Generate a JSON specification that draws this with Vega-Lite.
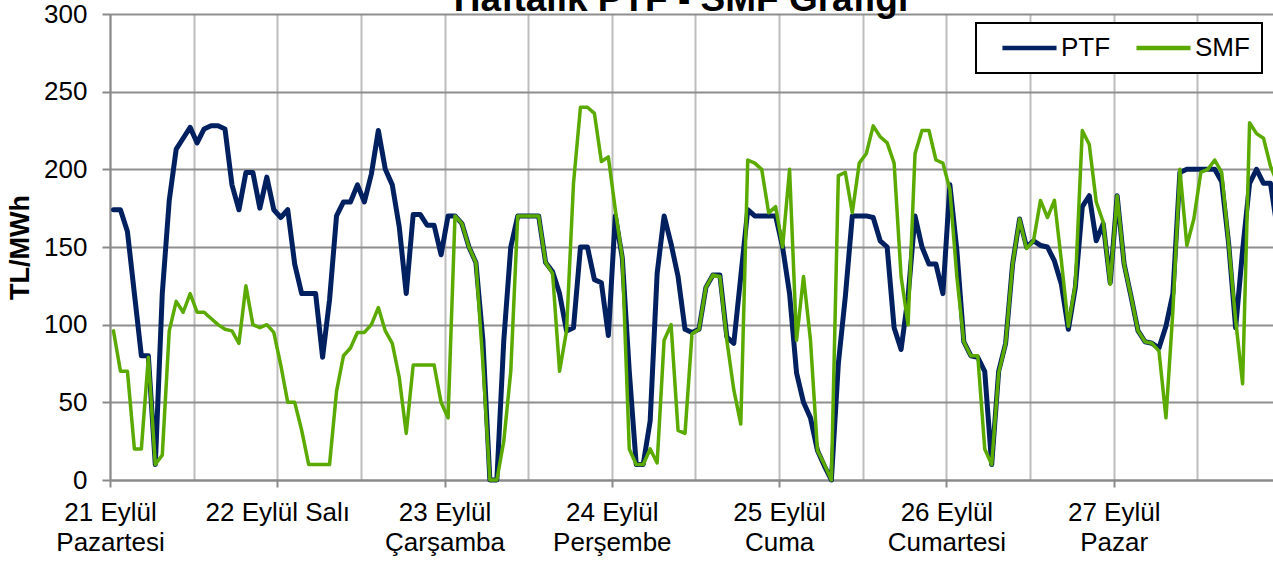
{
  "$schema": "https://vega.github.io/schema/vega-lite/v6.json",
  "width": 1163,
  "height": 466,
  "autosize": {"type": "none"},
  "padding": {"left": 110, "top": 14, "right": 0, "bottom": 81},
  "background": "white",
  "data": {
    "values": [
      {"hour":0,"PTF":174,"SMF":96},{"hour":1,"PTF":174,"SMF":70},{"hour":2,"PTF":160,"SMF":70},{"hour":3,"PTF":120,"SMF":20},
      {"hour":4,"PTF":80,"SMF":20},{"hour":5,"PTF":80,"SMF":79},{"hour":6,"PTF":10,"SMF":10},{"hour":7,"PTF":120,"SMF":16},
      {"hour":8,"PTF":180,"SMF":96},{"hour":9,"PTF":213,"SMF":115},{"hour":10,"PTF":220,"SMF":108},{"hour":11,"PTF":227,"SMF":120},
      {"hour":12,"PTF":217,"SMF":108},{"hour":13,"PTF":226,"SMF":108},{"hour":14,"PTF":228,"SMF":104},{"hour":15,"PTF":228,"SMF":100},
      {"hour":16,"PTF":226,"SMF":97},{"hour":17,"PTF":190,"SMF":96},{"hour":18,"PTF":174,"SMF":88},{"hour":19,"PTF":198,"SMF":125},
      {"hour":20,"PTF":198,"SMF":100},{"hour":21,"PTF":175,"SMF":98},{"hour":22,"PTF":195,"SMF":100},{"hour":23,"PTF":174,"SMF":95},
      {"hour":24,"PTF":169,"SMF":74},{"hour":25,"PTF":174,"SMF":50},{"hour":26,"PTF":139,"SMF":50},{"hour":27,"PTF":120,"SMF":32},
      {"hour":28,"PTF":120,"SMF":10},{"hour":29,"PTF":120,"SMF":10},{"hour":30,"PTF":79,"SMF":10},{"hour":31,"PTF":116,"SMF":10},
      {"hour":32,"PTF":170,"SMF":57},{"hour":33,"PTF":179,"SMF":80},{"hour":34,"PTF":179,"SMF":85},{"hour":35,"PTF":190,"SMF":95},
      {"hour":36,"PTF":179,"SMF":95},{"hour":37,"PTF":197,"SMF":100},{"hour":38,"PTF":225,"SMF":111},{"hour":39,"PTF":200,"SMF":96},
      {"hour":40,"PTF":190,"SMF":88},{"hour":41,"PTF":163,"SMF":66},{"hour":42,"PTF":120,"SMF":30},{"hour":43,"PTF":171,"SMF":74},
      {"hour":44,"PTF":171,"SMF":74},{"hour":45,"PTF":164,"SMF":74},{"hour":46,"PTF":164,"SMF":74},{"hour":47,"PTF":145,"SMF":50},
      {"hour":48,"PTF":170,"SMF":40},{"hour":49,"PTF":170,"SMF":170},{"hour":50,"PTF":165,"SMF":165},{"hour":51,"PTF":150,"SMF":150},
      {"hour":52,"PTF":140,"SMF":140},{"hour":53,"PTF":90,"SMF":75},{"hour":54,"PTF":0,"SMF":0},{"hour":55,"PTF":0,"SMF":0},
      {"hour":56,"PTF":90,"SMF":25},{"hour":57,"PTF":150,"SMF":70},{"hour":58,"PTF":170,"SMF":170},{"hour":59,"PTF":170,"SMF":170},
      {"hour":60,"PTF":170,"SMF":170},{"hour":61,"PTF":170,"SMF":170},{"hour":62,"PTF":140,"SMF":140},{"hour":63,"PTF":134,"SMF":133},
      {"hour":64,"PTF":120,"SMF":70},{"hour":65,"PTF":96,"SMF":96},{"hour":66,"PTF":98,"SMF":191},{"hour":67,"PTF":150,"SMF":240},
      {"hour":68,"PTF":150,"SMF":240},{"hour":69,"PTF":129,"SMF":236},{"hour":70,"PTF":127,"SMF":205},{"hour":71,"PTF":93,"SMF":208},
      {"hour":72,"PTF":170,"SMF":174},{"hour":73,"PTF":143,"SMF":143},{"hour":74,"PTF":70,"SMF":20},{"hour":75,"PTF":10,"SMF":10},
      {"hour":76,"PTF":10,"SMF":10},{"hour":77,"PTF":38,"SMF":20},{"hour":78,"PTF":133,"SMF":11},{"hour":79,"PTF":170,"SMF":90},
      {"hour":80,"PTF":152,"SMF":100},{"hour":81,"PTF":131,"SMF":32},{"hour":82,"PTF":97,"SMF":30},{"hour":83,"PTF":95,"SMF":94},
      {"hour":84,"PTF":97,"SMF":97},{"hour":85,"PTF":124,"SMF":124},{"hour":86,"PTF":132,"SMF":132},{"hour":87,"PTF":132,"SMF":131},
      {"hour":88,"PTF":92,"SMF":90},{"hour":89,"PTF":88,"SMF":58},{"hour":90,"PTF":131,"SMF":36},{"hour":91,"PTF":174,"SMF":206},
      {"hour":92,"PTF":170,"SMF":204},{"hour":93,"PTF":170,"SMF":200},{"hour":94,"PTF":170,"SMF":172},{"hour":95,"PTF":170,"SMF":176},
      {"hour":96,"PTF":150,"SMF":150},{"hour":97,"PTF":120,"SMF":200},{"hour":98,"PTF":69,"SMF":90},{"hour":99,"PTF":50,"SMF":131},
      {"hour":100,"PTF":40,"SMF":90},{"hour":101,"PTF":19,"SMF":19},{"hour":102,"PTF":9,"SMF":10},{"hour":103,"PTF":0,"SMF":0},
      {"hour":104,"PTF":75,"SMF":196},{"hour":105,"PTF":118,"SMF":198},{"hour":106,"PTF":170,"SMF":172},{"hour":107,"PTF":170,"SMF":204},
      {"hour":108,"PTF":170,"SMF":210},{"hour":109,"PTF":169,"SMF":228},{"hour":110,"PTF":154,"SMF":221},{"hour":111,"PTF":150,"SMF":217},
      {"hour":112,"PTF":98,"SMF":204},{"hour":113,"PTF":84,"SMF":131},{"hour":114,"PTF":118,"SMF":100},{"hour":115,"PTF":170,"SMF":210},
      {"hour":116,"PTF":150,"SMF":225},{"hour":117,"PTF":139,"SMF":225},{"hour":118,"PTF":139,"SMF":206},{"hour":119,"PTF":120,"SMF":204},
      {"hour":120,"PTF":190,"SMF":187},{"hour":121,"PTF":148,"SMF":131},{"hour":122,"PTF":89,"SMF":89},{"hour":123,"PTF":80,"SMF":80},
      {"hour":124,"PTF":79,"SMF":80},{"hour":125,"PTF":70,"SMF":20},{"hour":126,"PTF":10,"SMF":10},{"hour":127,"PTF":70,"SMF":69},
      {"hour":128,"PTF":88,"SMF":88},{"hour":129,"PTF":139,"SMF":139},{"hour":130,"PTF":168,"SMF":168},{"hour":131,"PTF":150,"SMF":149},
      {"hour":132,"PTF":154,"SMF":154},{"hour":133,"PTF":151,"SMF":180},{"hour":134,"PTF":150,"SMF":169},{"hour":135,"PTF":141,"SMF":180},
      {"hour":136,"PTF":126,"SMF":141},{"hour":137,"PTF":97,"SMF":99},{"hour":138,"PTF":124,"SMF":126},{"hour":139,"PTF":176,"SMF":225},
      {"hour":140,"PTF":183,"SMF":216},{"hour":141,"PTF":154,"SMF":179},{"hour":142,"PTF":165,"SMF":166},{"hour":143,"PTF":127,"SMF":126},
      {"hour":144,"PTF":183,"SMF":183},{"hour":145,"PTF":139,"SMF":139},{"hour":146,"PTF":118,"SMF":118},{"hour":147,"PTF":96,"SMF":96},
      {"hour":148,"PTF":89,"SMF":89},{"hour":149,"PTF":88,"SMF":88},{"hour":150,"PTF":85,"SMF":83},{"hour":151,"PTF":99,"SMF":40},
      {"hour":152,"PTF":120,"SMF":109},{"hour":153,"PTF":198,"SMF":200},{"hour":154,"PTF":200,"SMF":151},{"hour":155,"PTF":200,"SMF":168},
      {"hour":156,"PTF":200,"SMF":198},{"hour":157,"PTF":200,"SMF":200},{"hour":158,"PTF":200,"SMF":206},{"hour":159,"PTF":192,"SMF":198},
      {"hour":160,"PTF":152,"SMF":152},{"hour":161,"PTF":98,"SMF":103},{"hour":162,"PTF":148,"SMF":62},{"hour":163,"PTF":191,"SMF":230},
      {"hour":164,"PTF":200,"SMF":223},{"hour":165,"PTF":191,"SMF":220},{"hour":166,"PTF":191,"SMF":202},{"hour":167,"PTF":161,"SMF":191}
    ]
  },
  "transform": [{"fold": ["PTF", "SMF"], "as": ["series", "value"]}],
  "encoding": {
    "x": {
      "field": "hour",
      "type": "quantitative",
      "scale": {"domain": [-0.5, 166.36], "nice": false, "zero": false},
      "axis": {
        "title": null,
        "values": [-0.5, 11.5, 23.5, 35.5, 47.5, 59.5, 71.5, 83.5, 95.5, 107.5, 119.5, 131.5, 143.5, 155.5],
        "grid": true,
        "gridColor": "#bdbdbd",
        "gridWidth": 2,
        "domainColor": "#8a8a8a",
        "domainWidth": 2,
        "tickColor": "#8a8a8a",
        "tickWidth": 2,
        "tickSize": 7,
        "tickOpacity": {"condition": {"test": "(datum.value + 0.5) % 24 === 0", "value": 1}, "value": 0},
        "labelExpr": "(datum.value + 0.5) % 24 !== 0 ? '' : [['21 Eylül','Pazartesi'],'22 Eylül Salı',['23 Eylül','Çarşamba'],['24 Eylül','Perşembe'],['25 Eylül','Cuma'],['26 Eylül','Cumartesi'],['27 Eylül','Pazar']][(datum.value + 0.5) / 24]",
        "labelFont": "Liberation Sans",
        "labelFontSize": 26,
        "labelColor": "black",
        "labelPadding": 12,
        "labelLineHeight": 30,
        "labelAlign": "center",
        "labelBaseline": "top",
        "labelOverlap": false,
        "labelFlush": false,
        "labelBound": false
      }
    },
    "y": {
      "field": "value",
      "type": "quantitative",
      "scale": {"domain": [0, 300], "nice": false},
      "axis": {
        "title": "TL/MWh",
        "titleFont": "Liberation Sans",
        "titleFontSize": 27,
        "titleFontWeight": "bold",
        "titleColor": "black",
        "titleAngle": -90,
        "titleX": -82,
        "titleY": 233,
        "titleAlign": "center",
        "titleBaseline": "alphabetic",
        "values": [0, 50, 100, 150, 200, 250, 300],
        "grid": true,
        "gridColor": "#8e8e8e",
        "gridWidth": 2,
        "domainColor": "#8a8a8a",
        "domainWidth": 2,
        "tickColor": "#8a8a8a",
        "tickWidth": 2,
        "tickSize": 8,
        "labelFont": "Liberation Sans",
        "labelFontSize": 26,
        "labelColor": "black",
        "labelPadding": 15,
        "labelBound": false,
        "labelFlush": false,
        "labelOverlap": false
      }
    },
    "color": {
      "field": "series",
      "type": "nominal",
      "scale": {"domain": ["PTF", "SMF"], "range": ["#002060", "#5BAA00"]},
      "legend": {
        "orient": "none",
        "legendX": 866,
        "legendY": 9,
        "direction": "horizontal",
        "title": null,
        "symbolType": "M-5,0H5",
        "symbolSize": 117,
        "symbolStrokeWidth": 4.5,
        "symbolOffset": 28.5,
        "labelOffset": 18.5,
        "labelFont": "Liberation Sans",
        "labelFontSize": 26,
        "labelColor": "black",
        "labelLimit": 0,
        "columnPadding": 11,
        "padding": 12,
        "strokeColor": "black",
        "fillColor": "white"
      }
    }
  },
  "layer": [
    {
      "transform": [{"filter": "datum.series === 'PTF'"}],
      "mark": {"type": "line", "strokeWidth": 5, "strokeJoin": "round", "strokeCap": "round"}
    },
    {
      "transform": [{"filter": "datum.series === 'SMF'"}],
      "mark": {"type": "line", "strokeWidth": 3.5, "strokeJoin": "round", "strokeCap": "round"},
      "encoding": {
        "x": {
          "field": "hour",
          "type": "quantitative",
          "axis": {
            "orient": "top",
            "title": "Haftalık PTF - SMF Grafiği",
            "titleFont": "Liberation Sans",
            "titleFontSize": 37,
            "titleFontWeight": "bold",
            "titleColor": "black",
            "titleX": 570.5,
            "titleY": -3.5,
            "titleAlign": "center",
            "titleBaseline": "alphabetic",
            "titleAngle": 0,
            "domain": false,
            "ticks": false,
            "labels": false,
            "grid": false
          }
        }
      }
    }
  ],
  "resolve": {"axis": {"x": "independent"}},
  "config": {
    "view": {"stroke": null},
    "legend": {"strokeWidth": 2}
  }
}
